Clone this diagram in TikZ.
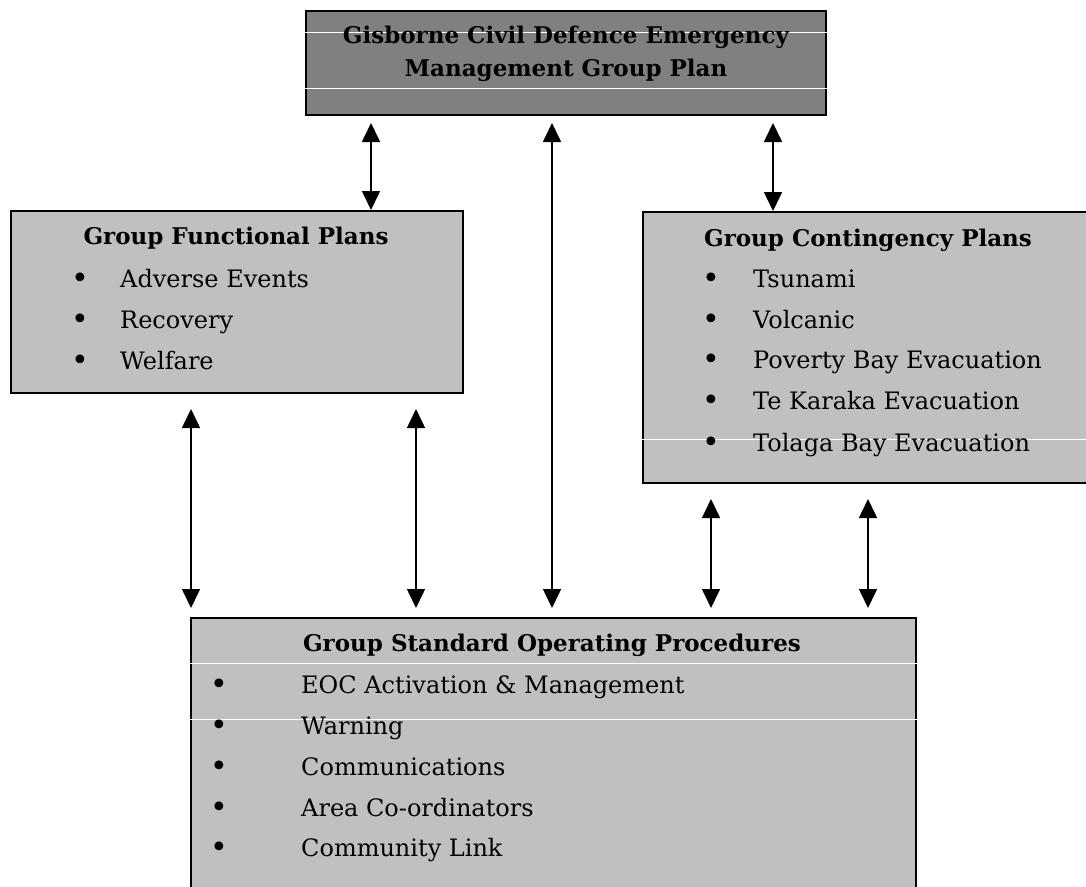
\documentclass[tikz,border=0pt]{standalone}
\usepackage{fontspec}
\setmainfont{DejaVu Serif}
\usetikzlibrary{arrows.meta}
\definecolor{boxdark}{HTML}{808080}
\definecolor{boxlight}{HTML}{C0C0C0}
\begin{document}
\begin{tikzpicture}[x=1pt,y=-1pt,
  box/.style={draw=black, line width=2pt, inner sep=0pt, anchor=north west},
  dark/.style={box, fill=boxdark},
  light/.style={box, fill=boxlight},
  arr/.style={line width=1.6pt, {Triangle[width=18pt,length=19pt]}-{Triangle[width=18pt,length=19pt]}},
  ttl/.style={font=\fontsize{23}{27}\selectfont\bfseries, inner sep=0pt, anchor=base},
  item/.style={font=\fontsize{24}{28}\selectfont, inner sep=0pt, anchor=base west},
  blt/.style={font=\fontsize{30}{32}\selectfont, inner sep=0pt, anchor=base},
  gap/.style={white, line width=1pt}]
\useasboundingbox (0,0) rectangle (1086,886);
\fill[white] (0,0) rectangle (1086,886);
\clip (0,0) rectangle (1086,886);

% boxes
\node[dark, minimum width=520pt, minimum height=104pt] (top) at (305,10) {};
\node[light, minimum width=452pt, minimum height=182pt] (left) at (10,210) {};
\node[light, minimum width=460pt, minimum height=271pt] (right) at (642,211) {};
\node[light, minimum width=725pt, minimum height=300pt] (bot) at (190,617) {};

% white rule artefacts
\draw[gap] (top.west |- 0,32) -- (top.east |- 0,32);
\draw[gap] (top.west |- 0,88) -- (top.east |- 0,88);
\draw[gap] (right.west |- 0,439) -- (1086,439);
\draw[gap] (bot.west |- 0,663) -- (bot.east |- 0,663);
\draw[gap] (bot.west |- 0,719) -- (bot.east |- 0,719);

% top title
\node[ttl] (t1) at (566,43) {Gisborne Civil Defence Emergency};
\node[ttl] (t2) at (566,76) {Management Group Plan};

% left box
\node[ttl] (lt) at (236,244) {Group Functional Plans};
\node[blt] (lb1) at (80,288) {•};
\node[blt] (lb2) at (80,329) {•};
\node[blt] (lb3) at (80,370) {•};
\node[item] (li1) at (120,287) {Adverse Events};
\node[item] (li2) at (120,328) {Recovery};
\node[item] (li3) at (120,369) {Welfare};

% right box
\node[ttl] (rt) at (868,246) {Group Contingency Plans};
\node[blt] (rb1) at (711,288) {•};
\node[blt] (rb2) at (711,329) {•};
\node[blt] (rb3) at (711,369) {•};
\node[blt] (rb4) at (711,410) {•};
\node[blt] (rb5) at (711,452) {•};
\node[item] (ri1) at (753,287) {Tsunami};
\node[item] (ri2) at (753,328) {Volcanic};
\node[item] (ri3) at (753,368) {Poverty Bay Evacuation};
\node[item] (ri4) at (753,409) {Te Karaka Evacuation};
\node[item] (ri5) at (753,451) {Tolaga Bay Evacuation};

% bottom box
\node[ttl] (bt) at (552,651) {Group Standard Operating Procedures};
\node[blt] (bb1) at (219,694) {•};
\node[blt] (bb2) at (219,735) {•};
\node[blt] (bb3) at (219,776) {•};
\node[blt] (bb4) at (219,817) {•};
\node[blt] (bb5) at (219,857) {•};
\node[item] (bi1) at (301,693) {EOC Activation \& Management};
\node[item] (bi2) at (301,734) {Warning};
\node[item] (bi3) at (301,775) {Communications};
\node[item] (bi4) at (301,816) {Area Co-ordinators};
\node[item] (bi5) at (301,856) {Community Link};

% arrow columns
\coordinate (xa) at (371,0);
\coordinate (xb) at (552,0);
\coordinate (xc) at (773,0);
\coordinate (xd) at (191,0);
\coordinate (xe) at (416,0);
\coordinate (xf) at (711,0);
\coordinate (xg) at (868,0);

\draw[arr, shorten <=7pt] (top.south -| xa) -- (left.north -| xa);
\draw[arr, shorten <=7pt, shorten >=9pt] (top.south -| xb) -- (bot.north -| xb);
\draw[arr, shorten <=7pt] (top.south -| xc) -- (right.north -| xc);
\draw[arr, shorten <=15pt, shorten >=9pt] (left.south -| xd) -- (bot.north -| xd);
\draw[arr, shorten <=15pt, shorten >=9pt] (left.south -| xe) -- (bot.north -| xe);
\draw[arr, shorten <=15pt, shorten >=9pt] (right.south -| xf) -- (bot.north -| xf);
\draw[arr, shorten <=15pt, shorten >=9pt] (right.south -| xg) -- (bot.north -| xg);
\end{tikzpicture}
\end{document}
